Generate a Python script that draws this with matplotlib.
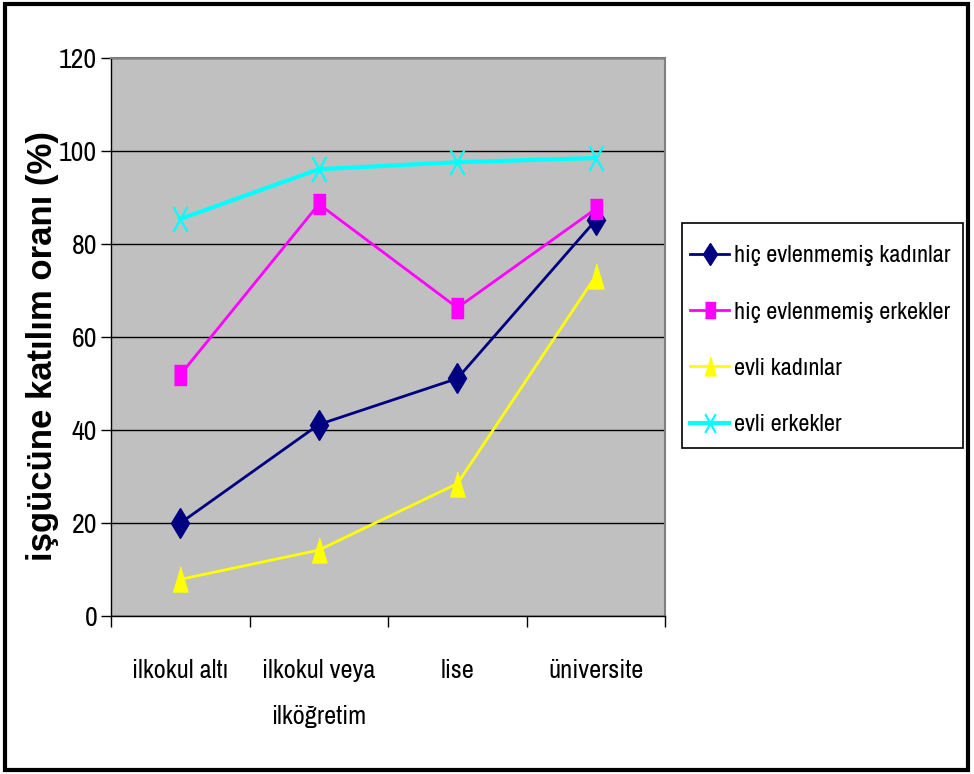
import matplotlib
matplotlib.use("Agg")
import matplotlib.pyplot as plt
from matplotlib import font_manager
from matplotlib.path import Path
from matplotlib.patches import Rectangle

# education levels on the x axis
categories = ["ilkokul altı", "ilkokul veya\nilköğretim", "lise", "üniversite"]
y_ticks = [0, 20, 40, 60, 80, 100, 120]

# labour force participation rates (%)
bekar_kadin = [20.0, 41.2, 51.1, 85.2]
bekar_erkek = [51.9, 88.6, 66.3, 87.6]
evli_kadin = [7.9, 14.2, 28.5, 73.2]
evli_erkek = [85.4, 96.1, 97.6, 98.5]

series_labels = [
    "hiç evlenmemiş kadınlar",
    "hiç evlenmemiş erkekler",
    "evli kadınlar",
    "evli erkekler",
]

# pick a narrow sans face that is actually installed
installed = {f.name for f in font_manager.fontManager.ttflist}
narrow_name = next((n for n in ("Liberation Sans Narrow", "Archivo Narrow",
                                "Roboto Condensed", "PT Sans Narrow")
                    if n in installed), "Liberation Sans")
narrow = [narrow_name, "DejaVu Sans"]

# tall, squeezed marker shapes
tall_square = [(-0.3, -0.5), (0.3, -0.5), (0.3, 0.5), (-0.3, 0.5)]
tall_triangle = [(-0.3, -0.5), (0.3, -0.5), (0.0, 0.5)]
tall_x = Path([(-0.28, -0.5), (0.28, 0.5), (-0.28, 0.5), (0.28, -0.5)],
              [Path.MOVETO, Path.LINETO, Path.MOVETO, Path.LINETO])

fig = plt.figure(figsize=(9.74, 7.74), dpi=100)
ax = fig.add_axes([0.114, 0.204, 0.569, 0.721])
ax.set_facecolor("#c0c0c0")

x = range(len(categories))
styles = [
    (bekar_kadin, "#000080", dict(marker="d", markersize=15), 2.0),
    (bekar_erkek, "#ff00ff", dict(marker=tall_square, markersize=15), 2.0),
    (evli_kadin, "#ffff00", dict(marker=tall_triangle, markersize=18), 2.0),
    (evli_erkek, "#00ffff", dict(marker=tall_x, markersize=18,
                                 markerfacecolor="none", markeredgewidth=1.6), 3.0),
]
for (vals, color, mk, lw), label in zip(styles, series_labels):
    kw = dict(markerfacecolor=color, markeredgecolor=color)
    kw.update(mk)
    ax.plot(x, vals, color=color, linewidth=lw, label=label, zorder=3, **kw)

ax.set_xlim(-0.5, len(categories) - 0.5)
ax.set_ylim(0, 120)
ax.set_yticks(y_ticks)
ax.yaxis.grid(True, color="black", linewidth=1)
ax.set_axisbelow(True)

ax.set_xticks(list(x))
ax.set_xticklabels(categories, family=narrow, fontsize=19, linespacing=2.2,
                   va="top")
ax.set_xticks([i - 0.5 for i in range(len(categories) + 1)], minor=True)
ax.tick_params(axis="x", which="major", length=0, pad=31)
ax.tick_params(axis="x", which="minor", direction="out", length=8, width=1)
ax.tick_params(axis="y", direction="out", length=7, width=1, pad=3)
for t in ax.get_yticklabels():
    t.set_family(narrow)
    t.set_fontsize(20)

for side in ("top", "right"):
    ax.spines[side].set_color("#808080")
    ax.spines[side].set_linewidth(1.5)
for side in ("left", "bottom"):
    ax.spines[side].set_color("black")
    ax.spines[side].set_linewidth(1)

fig.text(0.044, 0.553, "işgücüne katılım oranı (%)", rotation=90,
         ha="center", va="center", fontsize=25, fontweight="bold",
         family=["Liberation Sans", "DejaVu Sans"])

# legend entries without their own frame; the box is drawn separately
leg = fig.legend(loc="upper left", bbox_to_anchor=(0.7085, 0.683),
                 prop={"family": narrow, "size": 17.5}, frameon=False,
                 handlelength=1.6, handletextpad=0.2, labelspacing=1.45,
                 borderpad=0, borderaxespad=0, markerscale=0.75)
fig.patches.append(Rectangle((0.7002, 0.4212), 0.2885, 0.2907,
                             transform=fig.transFigure, fill=False,
                             edgecolor="black", linewidth=1.2))

# outer chart frame
fig.patches.append(Rectangle((0.005, 0.005), 0.989, 0.99, transform=fig.transFigure,
                             fill=False, edgecolor="black", linewidth=3))

fig.savefig("out.png", dpi=100)
